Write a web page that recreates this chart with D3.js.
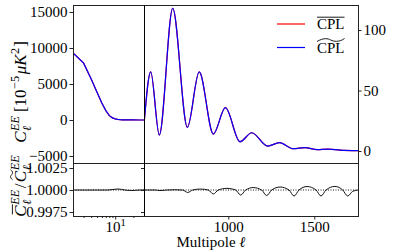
<!DOCTYPE html>
<html><head><meta charset="utf-8">
<script src="https://cdn.jsdelivr.net/npm/d3@7"></script>
<style>
body{margin:0;background:#fff}
svg{display:block}
text{font-family:"Liberation Serif","DejaVu Serif",serif;fill:#000}
</style>
</head><body><svg id="c" width="407" height="252"></svg>
<script>
// ---------- data ----------
const lowEll = [2,3,4,5,6,7,8,9,10,11,12,13,14,15,20,25,30];
const lowCl  = [9300,7900,5700,3850,2350,1300,600,300,160,90,50,30,20,15,5,2,0];

const highEll = [510,549,599,677,762,831,913,983,1068,1136,1229,1297,1378,1446,1516,1580,1649,1754];
const highCl  = [22,65.5,13.2,118,19.6,65.5,14,35.8,7.7,15.1,4.1,6.9,1.9,2.8,1.2,1.5,0.8,0.3];

const ratioLowEll = [2,7.6,11.1,14.5,18.8,25.8,30];
const ratioLow    = [1,1,1.00012,1.0,0.99994,1.0,1.0];

const ratioHighEll = [510,574,603,644,684,735,764,793,838,884,913,942,992,1043,1072,1101,1144,1194,1223,1252,1301,1353,1382,1411,1458,1510,1539,1568,1620,1665,1694,1723,1754];
const ratioHigh    = [1,1,0.99994,1,1.00003,1,0.99972,1,1.00011,1,0.99955,1,1.00019,1,0.99943,1,1.00028,1,0.99937,1,1.00034,1,0.99932,1,1.0004,1,0.99932,1,1.00041,1,0.99932,0.99985,1.0];

const leftTicks  = [-5000,0,5000,10000,15000];
const rightTicks = [0,50,100];
const ratioTicks = [0.9975,1.0,1.0025];
const logMajor   = [10];
const logMinor   = [3,4,5,6,7,8,9,20];
const linTicks   = [1000,1500];
const legendNames = ["CPL","CPL"];
const seriesColors = ["#ff0000","#0000ff"];

// ---------- layout ----------
const L=73, M=144, R=358, T=5, MID=163, B=216;
const svg = d3.select('#c');
const xLog = d3.scaleLog().domain([2,30]).range([L,M]);
const xLin = d3.scaleLinear().domain([510,1754]).range([M,R]);
const yL = d3.scaleLinear().domain([-5972,15972]).range([MID,T]);
const yR = d3.scaleLinear().domain([-9.9,120.7]).range([MID,T]);
const yB = d3.scaleLinear().domain([0.99705,1.00307]).range([B,MID]);

const defs = svg.append('defs');
function clip(id,x0,y0,x1,y1){
  defs.append('clipPath').attr('id',id).append('rect').attr('x',x0).attr('y',y0).attr('width',x1-x0).attr('height',y1-y0);
}
clip('tl',L,T,M,MID); clip('tr',M,T,R,MID); clip('bl',L,MID,M,B); clip('br',M,MID,R,B);

// ---------- curves ----------
const lowData = lowEll.map((l,i)=>[l,lowCl[i]]);
const highData = highEll.map((l,i)=>[l,highCl[i]]);
const lineLow = d3.line().x(d=>xLog(d[0])).y(d=>yL(d[1]));
const lineHigh = d3.line().x(d=>xLin(d[0])).y(d=>yR(d[1])).curve(d3.curveMonotoneX);
seriesColors.forEach(c=>{
  svg.append('path').attr('clip-path','url(#tl)').attr('d',lineLow(lowData)).attr('fill','none').attr('stroke',c).attr('stroke-width',1.2);
  svg.append('path').attr('clip-path','url(#tr)').attr('d',lineHigh(highData)).attr('fill','none').attr('stroke',c).attr('stroke-width',1.2);
});

// ratio
svg.append('line').attr('x1',xLog(2)).attr('x2',xLin(1754)).attr('y1',yB(1)).attr('y2',yB(1))
  .attr('stroke','#000').attr('stroke-width',0.9).attr('stroke-dasharray','1,1.5');
const rLow = ratioLowEll.map((l,i)=>[l,ratioLow[i]]);
const rHigh = ratioHighEll.map((l,i)=>[l,ratioHigh[i]]);
svg.append('path').attr('clip-path','url(#bl)')
  .attr('d',d3.line().x(d=>xLog(d[0])).y(d=>yB(d[1])).curve(d3.curveMonotoneX)(rLow))
  .attr('fill','none').attr('stroke','#111').attr('stroke-width',1);
svg.append('path').attr('clip-path','url(#br)')
  .attr('d',d3.line().x(d=>xLin(d[0])).y(d=>yB(d[1])).curve(d3.curveMonotoneX)(rHigh))
  .attr('fill','none').attr('stroke','#111').attr('stroke-width',1);

// ---------- frames ----------
const fr = svg.append('g').attr('stroke','#222').attr('stroke-width',1).attr('fill','none').attr('shape-rendering','crispEdges');
fr.append('rect').attr('x',L).attr('y',T).attr('width',R-L).attr('height',B-T);
fr.append('line').attr('x1',L).attr('x2',R).attr('y1',MID).attr('y2',MID);
fr.append('line').attr('x1',M).attr('x2',M).attr('y1',T).attr('y2',B).attr('stroke','#000');

// ---------- axes ----------
function styleAxis(g){
  g.select('.domain').remove();
  g.selectAll('.tick line').attr('stroke','#222');
  g.selectAll('.tick text').attr('font-size',15).attr('font-family','"Liberation Serif","DejaVu Serif",serif').attr('fill','#000');
}
const fmtInt = d3.format('d');
svg.append('g').attr('transform',`translate(${L},0)`)
  .call(d3.axisLeft(yL).tickValues(leftTicks).tickSize(3.5).tickPadding(2).tickFormat(fmtInt)).call(styleAxis);
svg.append('g').attr('transform',`translate(${R},0)`)
  .call(d3.axisRight(yR).tickValues(rightTicks).tickSize(3.5).tickPadding(2).tickFormat(fmtInt)).call(styleAxis);
svg.append('g').attr('transform',`translate(${L},0)`)
  .call(d3.axisLeft(yB).tickValues(ratioTicks).tickSize(3.5).tickPadding(2).tickFormat(d3.format('.4f'))).call(styleAxis);
// divider ticks on the ratio panel
svg.append('g').attr('transform',`translate(${M},0)`)
  .call(d3.axisLeft(yB).tickValues(ratioTicks).tickSize(3).tickFormat('')).call(styleAxis);
// bottom x axes
const gLog = svg.append('g').attr('transform',`translate(0,${B})`)
  .call(d3.axisBottom(xLog).tickValues(logMajor).tickSize(3.5).tickPadding(2).tickFormat(()=>'')).call(styleAxis);
gLog.selectAll('.tick text').each(function(d){
  const t = d3.select(this);
  t.text(null);
  t.append('tspan').text('10');
  t.append('tspan').attr('font-size',10.5).attr('dy',-6).text(String(Math.round(Math.log10(d))));
});
svg.append('g').attr('transform',`translate(0,${B})`)
  .call(d3.axisBottom(xLog).tickValues(logMinor).tickSize(2).tickFormat('')).call(styleAxis);
svg.append('g').attr('transform',`translate(0,${B})`)
  .call(d3.axisBottom(xLin).tickValues(linTicks).tickSize(3.5).tickPadding(2).tickFormat(fmtInt)).call(styleAxis);

// ---------- math text helper ----------
function mathText(parent, parts, size){
  const g = parent.append('g');
  let x=0, prevStart=0;
  parts.forEach(p=>{
    const small = p.s==='sup'||p.s==='sub';
    const fs = small ? size*0.72 : size;
    const y = p.s==='sup' ? -size*0.42 : p.s==='sub' ? size*0.28 : 0;
    const start = (p.stack ? prevStart : x) + (p.gap||0);
    const t = g.append('text').attr('x',start).attr('y',y).attr('font-size',fs)
      .attr('font-style',p.i?'italic':'normal').text(p.t);
    const w = t.node().getComputedTextLength();
    if(p.acc==='bar'){
      g.append('line').attr('x1',start+w*0.2).attr('x2',start+w+1).attr('y1',-size*0.8).attr('y2',-size*0.8)
        .attr('stroke','#000').attr('stroke-width',0.9);
    } else if(p.acc==='tilde'){
      const x0=start+w*0.2, x1=start+w+1, y0=-size*0.85, ww=x1-x0;
      g.append('path').attr('d',`M${x0},${y0+1} C${x0+ww*0.25},${y0-2} ${x0+ww*0.4},${y0-1} ${x0+ww*0.5},${y0} S${x0+ww*0.8},${y0+2} ${x1},${y0-1}`)
        .attr('fill','none').attr('stroke','#000').attr('stroke-width',0.9);
    }
    x = Math.max(x, start+w);
    prevStart = start;
  });
  return {g, width:x};
}

// y label top
{
  const outer = svg.append('g').attr('transform','translate(26,92) rotate(-90)');
  const m = mathText(outer,[
    {t:'C',i:true},{t:'EE',s:'sup',i:true,gap:0.5},{t:'ℓ',s:'sub',i:true,stack:true},
    {t:'[10',gap:4},{t:'−5',s:'sup',gap:0.5},{t:'μK',i:true,gap:1.5},{t:'2',s:'sup',gap:0.5},{t:']',gap:1}
  ],17);
  m.g.attr('transform',`translate(${-m.width/2},0)`);
}
// y label bottom
{
  const outer = svg.append('g').attr('transform','translate(26,186) rotate(-90)');
  const m = mathText(outer,[
    {t:'C',i:true,acc:'bar'},{t:'EE',s:'sup',i:true,gap:0.5},{t:'ℓ',s:'sub',i:true,stack:true},
    {t:'/',gap:1.5},
    {t:'C',i:true,acc:'tilde',gap:1.5},{t:'EE',s:'sup',i:true,gap:0.5},{t:'ℓ',s:'sub',i:true,stack:true}
  ],17);
  m.g.attr('transform',`translate(${-m.width/2},0)`);
}
// x label
svg.append('text').attr('x',211).attr('y',247).attr('text-anchor','middle').attr('font-size',15)
  .text('Multipole ').append('tspan').attr('font-style','italic').text('ℓ');

// ---------- legend ----------
const lg = svg.append('g');
legendNames.forEach((name,i)=>{
  const y = 24 + i*23.5;
  lg.append('line').attr('x1',277).attr('x2',305).attr('y1',y).attr('y2',y).attr('stroke',seriesColors[i]).attr('stroke-width',1.2);
  const gg = lg.append('g').attr('transform',`translate(317,${y+5})`);
  const t = gg.append('text').attr('font-size',15).text(name);
  const w = t.node().getComputedTextLength();
  if(i===0){
    gg.append('line').attr('x1',0).attr('x2',w).attr('y1',-11.8).attr('y2',-11.8).attr('stroke','#000').attr('stroke-width',0.9);
  } else {
    const y0=-12.5;
    gg.append('path').attr('d',`M0,${y0+1.5} C${w*0.25},${y0-2.5} ${w*0.4},${y0-1.5} ${w*0.5},${y0} S${w*0.8},${y0+2.5} ${w},${y0-1.5}`)
      .attr('fill','none').attr('stroke','#000').attr('stroke-width',0.9);
  }
});
</script>
</body></html>
